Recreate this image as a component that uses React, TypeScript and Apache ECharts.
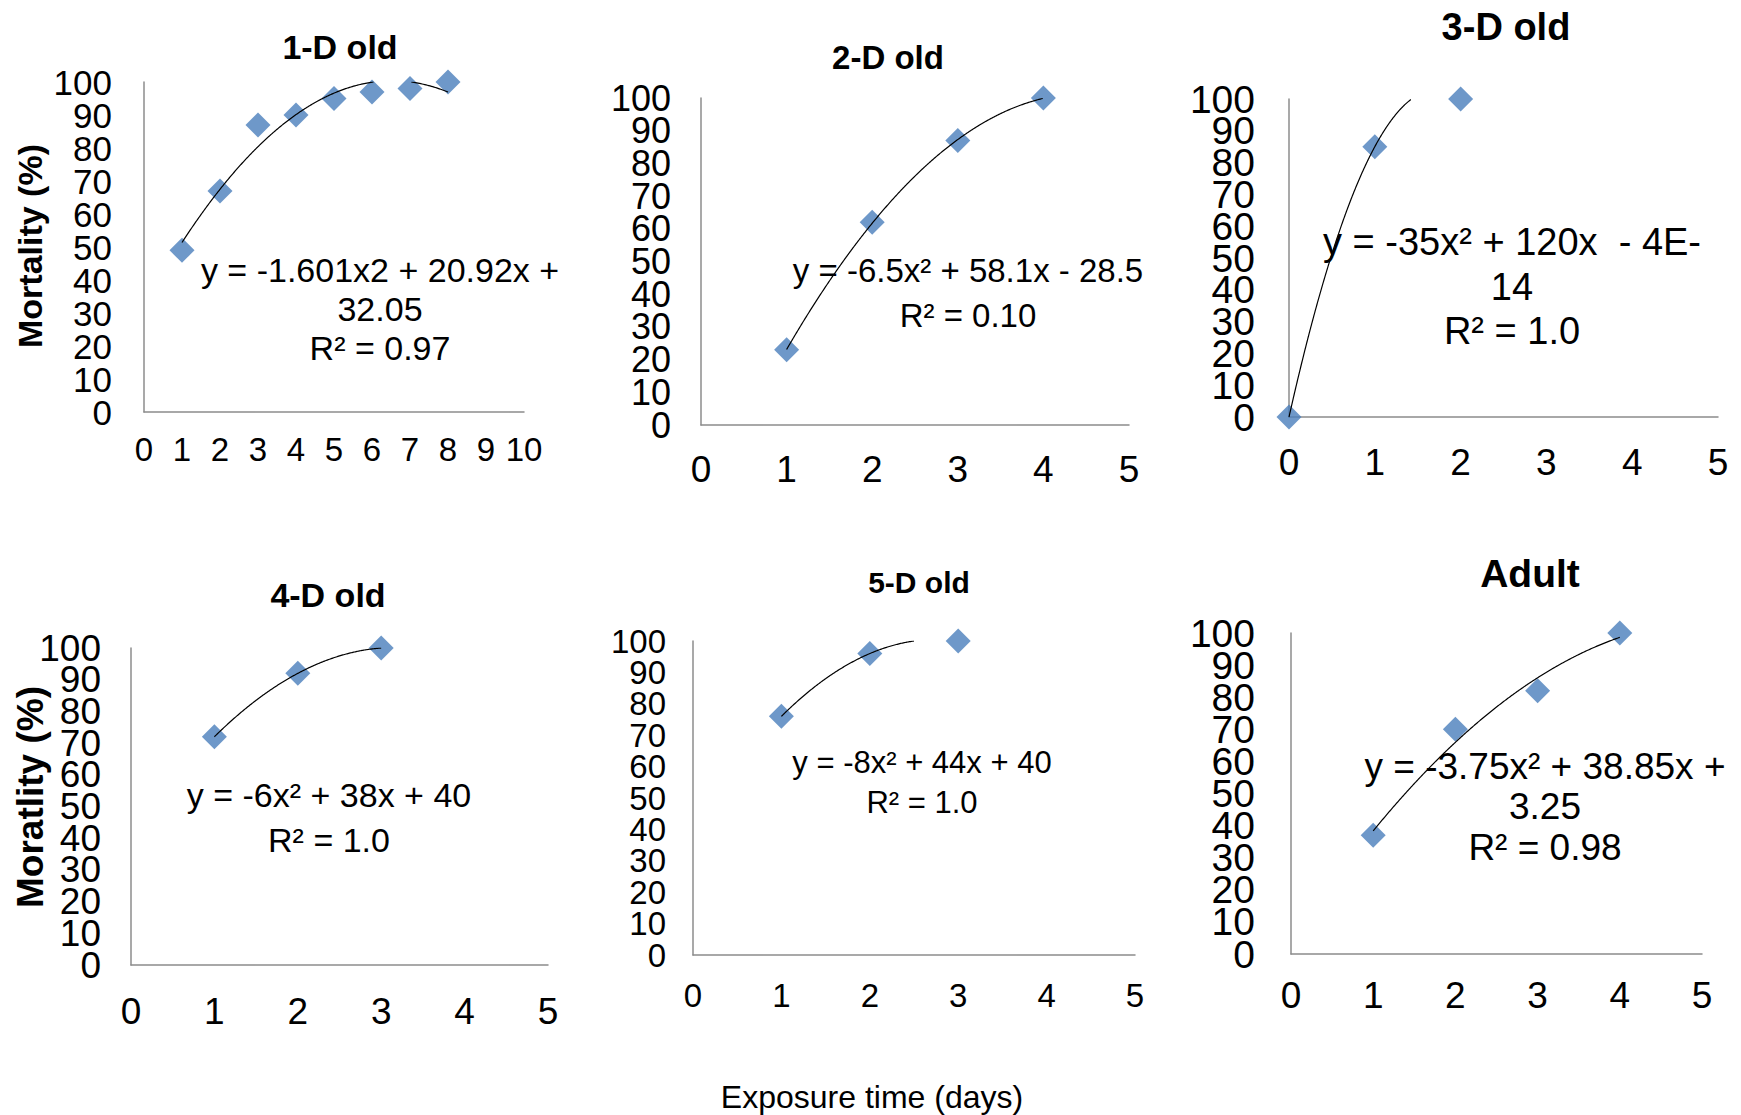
import React, { useEffect, useRef } from 'react';
import * as echarts from 'echarts';

const FONT = "'Liberation Sans', Arial, Helvetica, sans-serif";

// ---------- data ----------
const titles = ['1-D old', '2-D old', '3-D old', '4-D old', '5-D old', 'Adult'];

const days1 = [1, 2, 3, 4, 5, 6, 7, 8];
const mortality1 = [49, 67, 87, 90, 95, 97, 98, 100];
const days2 = [1, 2, 3, 4];
const mortality2 = [23, 62, 87, 100];
const days3 = [0, 1, 2];
const mortality3 = [0, 85, 100];
const days4 = [1, 2, 3];
const mortality4 = [72, 92, 100];
const days5 = [1, 2, 3];
const mortality5 = [76, 96, 100];
const days6 = [1, 2, 3, 4];
const mortality6 = [37, 70, 82, 100];

// polynomial trendline coefficients [a, b, c] for y = a x^2 + b x + c, and x span
const trendCoef1 = [-1.601, 20.92, 32.05];
const trendCoef2 = [-6.5, 58.1, -28.5];
const trendCoef3 = [-35, 120, 0];
const trendCoef4 = [-6, 38, 40];
const trendCoef5 = [-8, 44, 40];
const trendCoef6 = [-3.75, 38.85, 3.25];
const trendSpan1 = [1, 8];
const trendSpan2 = [1, 4];
const trendSpan3 = [0, 2];
const trendSpan4 = [1, 3];
const trendSpan5 = [1, 3];
const trendSpan6 = [1, 4];

const xAxisMax = [10, 5, 5, 5, 5, 5];
const yAxisMin = 0;
const yAxisMax = 100;
const yAxisStep = 10;

const equations = [
  ['y = -1.601x2 + 20.92x +', '32.05', 'R² = 0.97'],
  ['y = -6.5x² + 58.1x - 28.5', 'R² = 0.10'],
  ['y = -35x² + 120x  - 4E-', '14', 'R² = 1.0'],
  ['y = -6x² + 38x + 40', 'R² = 1.0'],
  ['y = -8x² + 44x + 40', 'R² = 1.0'],
  ['y = -3.75x² + 38.85x +', '3.25', 'R² = 0.98'],
];
const yAxisNames = ['Mortality (%)', 'Moratlity (%)'];
const xAxisName = 'Exposure time (days)';

const allDays = [days1, days2, days3, days4, days5, days6];
const allMortality = [mortality1, mortality2, mortality3, mortality4, mortality5, mortality6];
const allCoef = [trendCoef1, trendCoef2, trendCoef3, trendCoef4, trendCoef5, trendCoef6];
const allSpan = [trendSpan1, trendSpan2, trendSpan3, trendSpan4, trendSpan5, trendSpan6];

// ---------- layout (positions / sizes) ----------
const layout = [
  { grid: { left: 144, top: 82, width: 380, height: 330 }, yFont: 35, yMargin: 32, xFont: 33, xMargin: 21, title: { x: 340, y: 47, size: 34 }, eq: { x: 380, y: 270, size: 34, lh: 39 } },
  { grid: { left: 701, top: 98, width: 428, height: 327 }, yFont: 36, yMargin: 30, xFont: 37, xMargin: 26, title: { x: 888, y: 57, size: 33 }, eq: { x: 968, y: 270, size: 33, lh: 45 } },
  { grid: { left: 1289, top: 99, width: 429, height: 318 }, yFont: 39, yMargin: 34, xFont: 37, xMargin: 27, title: { x: 1506, y: 27, size: 38 }, eq: { x: 1512, y: 242, size: 38, lh: 44.5 } },
  { grid: { left: 131, top: 648, width: 417, height: 317 }, yFont: 37, yMargin: 30, xFont: 37, xMargin: 28, title: { x: 328, y: 595, size: 34 }, eq: { x: 329, y: 795, size: 34, lh: 45 } },
  { grid: { left: 693, top: 641, width: 442, height: 314 }, yFont: 33, yMargin: 27, xFont: 33, xMargin: 24, title: { x: 919, y: 582, size: 30 }, eq: { x: 922, y: 762, size: 31, lh: 40 } },
  { grid: { left: 1291, top: 633, width: 411, height: 321 }, yFont: 39, yMargin: 36, xFont: 37, xMargin: 23, title: { x: 1530, y: 573, size: 39 }, eq: { x: 1545, y: 766, size: 37, lh: 40.5 } },
];
const yNameLayout = [
  { x: 30, y: 246, size: 34 },
  { x: 30, y: 797, size: 37 },
];
const xNameLayout = { x: 872, y: 1097, size: 32 };

const AXIS_COLOR = '#8c8c8c';
const MARKER_COLOR = '#4A7EBB';

// trendline sampled from the shown equation; parts above the axis maximum are left out (as in the source chart)
function trendPoints(coef: number[], span: number[]) {
  const pts: any[] = [];
  const n = 400;
  for (let i = 0; i <= n; i++) {
    const x = span[0] + ((span[1] - span[0]) * i) / n;
    const y = coef[0] * x * x + coef[1] * x + coef[2];
    pts.push([x, y > yAxisMax + 1e-9 ? '-' : y]);
  }
  return pts;
}

function buildOption() {
  const grid: any[] = [];
  const xAxis: any[] = [];
  const yAxis: any[] = [];
  const series: any[] = [];
  const graphic: any[] = [];

  layout.forEach((L, i) => {
    grid.push({ ...L.grid, containLabel: false });
    xAxis.push({
      type: 'value',
      gridIndex: i,
      min: 0,
      max: xAxisMax[i],
      interval: 1,
      axisLine: { show: true, onZero: false, lineStyle: { color: AXIS_COLOR, width: 1.5 } },
      axisTick: { show: false },
      splitLine: { show: false },
      axisLabel: {
        color: '#000', fontSize: L.xFont, fontFamily: FONT, margin: L.xMargin,
        showMinLabel: true, showMaxLabel: true, hideOverlap: false,
      },
    });
    const yBase = {
      type: 'value',
      gridIndex: i,
      position: 'left',
      min: yAxisMin,
      max: yAxisMax,
      interval: yAxisStep,
      axisTick: { show: false },
      splitLine: { show: false },
    };
    // primary y axis: axis line and the end labels (0 and 100)
    yAxis.push({
      ...yBase,
      axisLine: { show: true, onZero: false, lineStyle: { color: AXIS_COLOR, width: 1.5 } },
      axisLabel: {
        color: '#000', fontSize: L.yFont, fontFamily: FONT, margin: L.yMargin,
        showMinLabel: true, showMaxLabel: true, hideOverlap: false,
        formatter: (v: number) => (v === yAxisMin || v === yAxisMax ? String(v) : ''),
      },
    });
    // companion y axis (same scale): the inner labels 10 … 90
    yAxis.push({
      ...yBase,
      axisLine: { show: false },
      axisLabel: {
        color: '#000', fontSize: L.yFont, fontFamily: FONT, margin: L.yMargin,
        showMinLabel: false, showMaxLabel: false, hideOverlap: false,
      },
    });
    series.push({
      type: 'scatter',
      xAxisIndex: i,
      yAxisIndex: 2 * i,
      symbol: 'diamond',
      symbolSize: 25,
      clip: false,
      itemStyle: { color: MARKER_COLOR },
      data: allDays[i].map((d, k) => [d, allMortality[i][k]]),
      z: 2,
    });
    series.push({
      type: 'line',
      xAxisIndex: i,
      yAxisIndex: 2 * i,
      showSymbol: false,
      symbol: 'none',
      clip: true,
      connectNulls: false,
      lineStyle: { color: '#000', width: 1.2 },
      data: trendPoints(allCoef[i], allSpan[i]),
      z: 3,
    });

    graphic.push({
      type: 'text',
      x: L.title.x,
      y: L.title.y,
      style: {
        text: titles[i],
        fontSize: L.title.size,
        fontWeight: 'bold',
        fontFamily: FONT,
        fill: '#000',
        align: 'center',
        verticalAlign: 'middle',
      },
    });
    equations[i].forEach((line, k) => {
      graphic.push({
        type: 'text',
        x: L.eq.x,
        y: L.eq.y + k * L.eq.lh,
        z: 10,
        style: {
          text: line,
          fontSize: L.eq.size,
          fontFamily: FONT,
          fill: '#000',
          align: 'center',
          verticalAlign: 'middle',
        },
      });
    });
  });

  yAxisNames.forEach((name, k) => {
    const Y = yNameLayout[k];
    graphic.push({
      type: 'text',
      x: Y.x,
      y: Y.y,
      rotation: Math.PI / 2,
      style: {
        text: name,
        fontSize: Y.size,
        fontWeight: 'bold',
        fontFamily: FONT,
        fill: '#000',
        align: 'center',
        verticalAlign: 'middle',
      },
    });
  });

  graphic.push({
    type: 'text',
    x: xNameLayout.x,
    y: xNameLayout.y,
    style: {
      text: xAxisName,
      fontSize: xNameLayout.size,
      fontFamily: FONT,
      fill: '#000',
      align: 'center',
      verticalAlign: 'middle',
    },
  });

  return {
    animation: false,
    backgroundColor: '#fff',
    grid,
    xAxis,
    yAxis,
    series,
    graphic,
  };
}

export default function App() {
  const ref = useRef<HTMLDivElement>(null);
  useEffect(() => {
    document.body.style.margin = '0';
    if (!ref.current) return;
    const chart = echarts.init(ref.current, undefined, { renderer: 'svg' });
    chart.setOption(buildOption());
    return () => chart.dispose();
  }, []);
  return <div ref={ref} style={{ width: 1741, height: 1115 }} />;
}
